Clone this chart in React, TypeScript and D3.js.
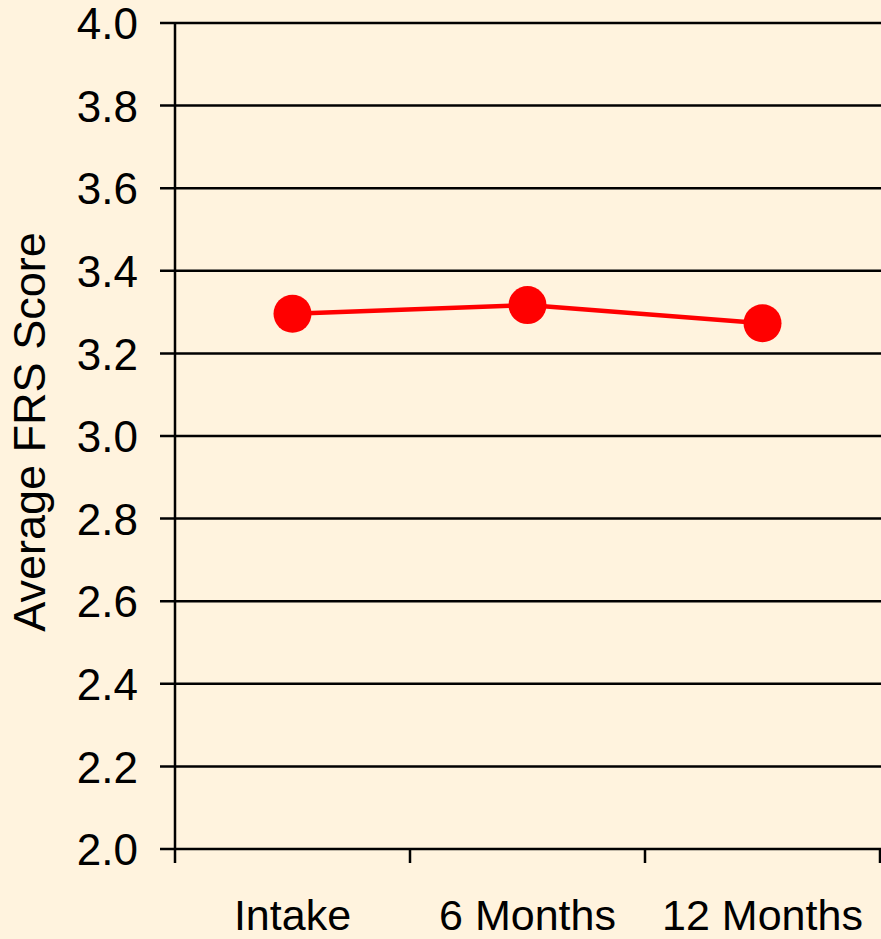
import React, { useEffect, useRef } from 'react';
import * as d3 from 'd3';

const categories = ['Intake', '6 Months', '12 Months'];
const frsScores = [3.296, 3.317, 3.273];
const yTicks = [2.0, 2.2, 2.4, 2.6, 2.8, 3.0, 3.2, 3.4, 3.6, 3.8, 4.0];

const WIDTH = 881;
const HEIGHT = 939;
const BG = '#FFF3DE';
const FONT = '"Liberation Sans", Arial, sans-serif';

const App: React.FC = () => {
  const svgRef = useRef<SVGSVGElement>(null);

  useEffect(() => {
    if (!svgRef.current) return;
    const svg = d3.select(svgRef.current);
    svg.selectAll('*').remove();

    const margin = { top: 23, right: 1, bottom: 90, left: 175 };
    const plotRight = WIDTH - margin.right;
    const plotBottom = HEIGHT - margin.bottom;

    svg.append('rect')
      .attr('width', WIDTH)
      .attr('height', HEIGHT)
      .attr('fill', BG);

    const x = d3.scaleBand<string>()
      .domain(categories)
      .range([margin.left, plotRight]);

    const y = d3.scaleLinear()
      .domain([2, 4])
      .range([plotBottom, margin.top]);

    // horizontal grid lines (with tick stubs to the left of the axis)
    svg.append('g')
      .selectAll('line')
      .data(yTicks)
      .enter()
      .append('line')
      .attr('x1', margin.left - 15)
      .attr('x2', WIDTH + 5)
      .attr('y1', d => y(d))
      .attr('y2', d => y(d))
      .attr('stroke', '#000')
      .attr('stroke-width', 2.5);

    // y tick labels
    svg.append('g')
      .selectAll('text')
      .data(yTicks)
      .enter()
      .append('text')
      .attr('x', 138)
      .attr('y', d => y(d))
      .attr('dy', '0.37em')
      .attr('text-anchor', 'end')
      .style('font-family', FONT)
      .style('font-size', '44px')
      .style('fill', '#000')
      .text(d => d.toFixed(1));

    // y axis line
    svg.append('line')
      .attr('x1', margin.left)
      .attr('x2', margin.left)
      .attr('y1', margin.top)
      .attr('y2', plotBottom + 14)
      .attr('stroke', '#000')
      .attr('stroke-width', 2.5);

    // x tick marks at band edges
    const edges = categories.map(c => (x(c) as number) + x.bandwidth());
    svg.append('g')
      .selectAll('line')
      .data(edges)
      .enter()
      .append('line')
      .attr('x1', d => d)
      .attr('x2', d => d)
      .attr('y1', plotBottom)
      .attr('y2', plotBottom + 14)
      .attr('stroke', '#000')
      .attr('stroke-width', 2.5);

    // x labels
    svg.append('g')
      .selectAll('text')
      .data(categories)
      .enter()
      .append('text')
      .attr('x', d => (x(d) as number) + x.bandwidth() / 2)
      .attr('y', 930)
      .attr('text-anchor', 'middle')
      .style('font-family', FONT)
      .style('font-size', '43px')
      .style('fill', '#000')
      .text(d => d);

    // y axis title
    svg.append('text')
      .attr('transform', `translate(45, ${(margin.top + plotBottom) / 2 - 4}) rotate(-90)`)
      .attr('text-anchor', 'middle')
      .style('font-family', FONT)
      .style('font-size', '45px')
      .style('fill', '#000')
      .text('Average FRS Score');

    const points = categories.map((c, i) => ({
      cx: (x(c) as number) + x.bandwidth() / 2,
      cy: y(frsScores[i])
    }));

    const line = d3.line<{ cx: number; cy: number }>()
      .x(d => d.cx)
      .y(d => d.cy);

    svg.append('path')
      .datum(points)
      .attr('fill', 'none')
      .attr('stroke', '#FF0000')
      .attr('stroke-width', 4.5)
      .attr('d', line);

    svg.append('g')
      .selectAll('circle')
      .data(points)
      .enter()
      .append('circle')
      .attr('cx', d => d.cx)
      .attr('cy', d => d.cy)
      .attr('r', 19)
      .attr('fill', '#FF0000');
  }, []);

  return (
    <svg
      ref={svgRef}
      width={WIDTH}
      height={HEIGHT}
      style={{ position: 'fixed', left: 0, top: 0, display: 'block' }}
    />
  );
};

export default App;
